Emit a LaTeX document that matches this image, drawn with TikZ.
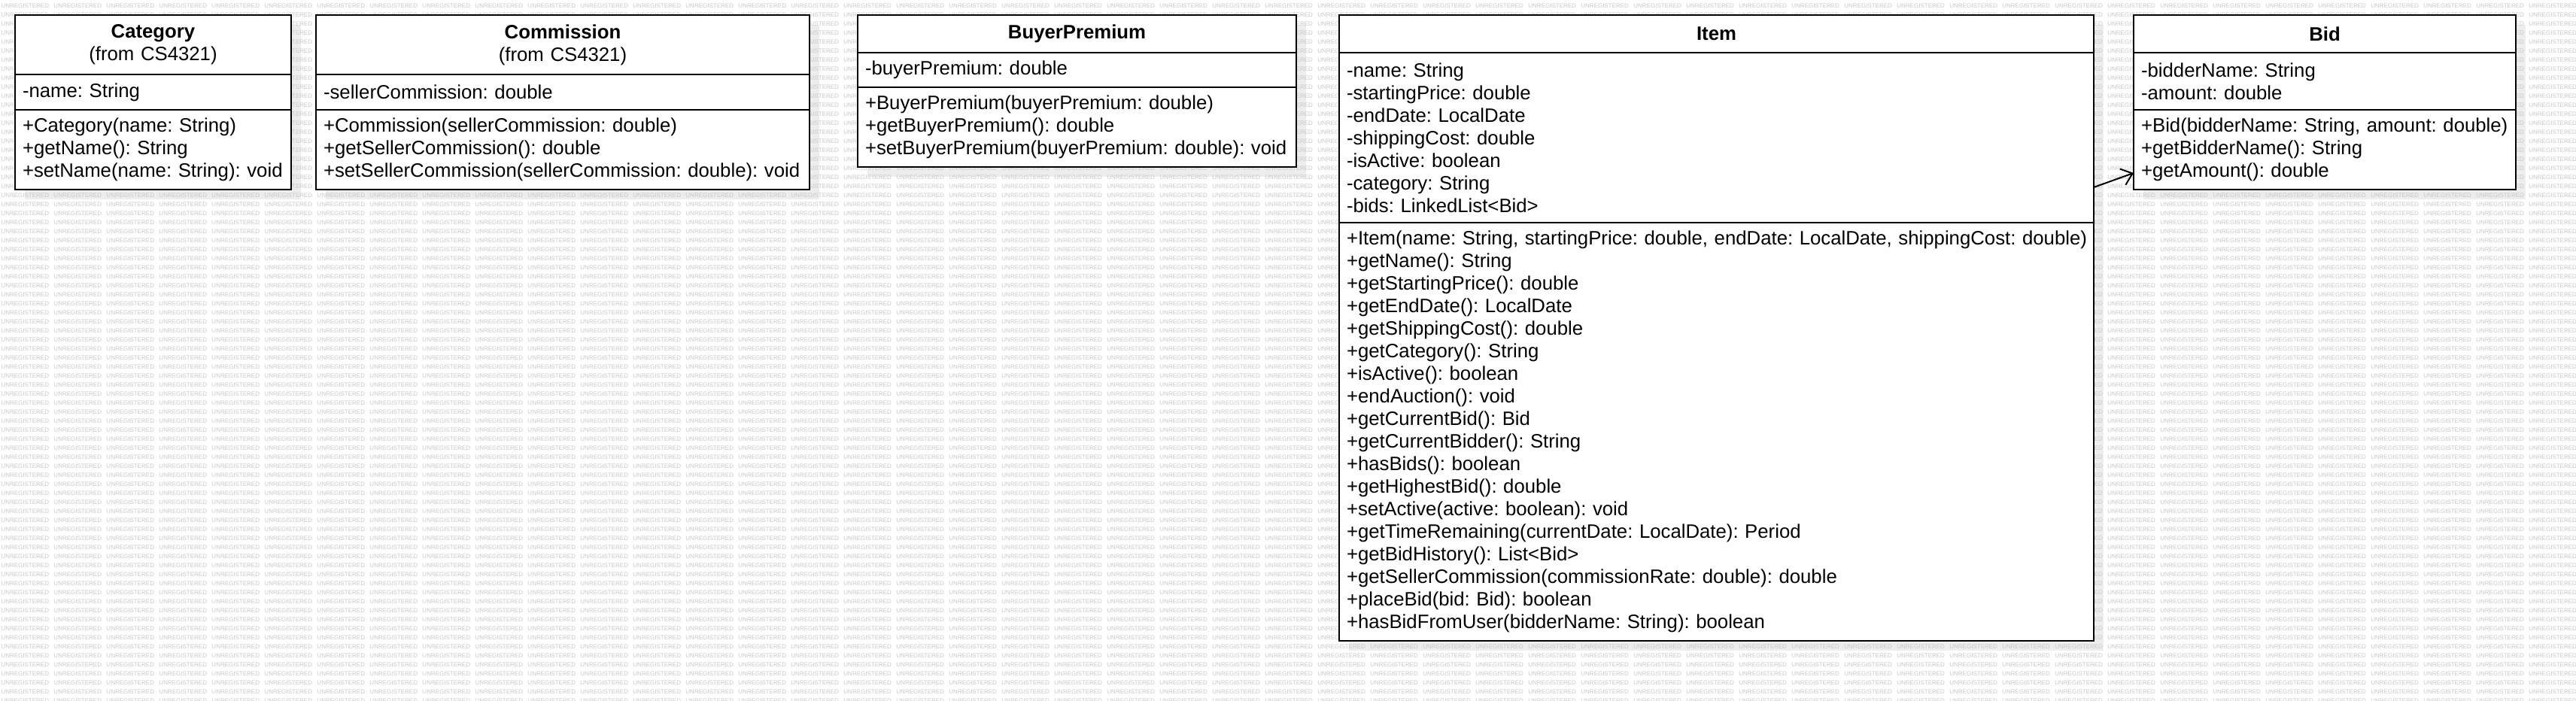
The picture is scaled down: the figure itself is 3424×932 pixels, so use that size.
\documentclass[tikz,border=0pt]{standalone}
\usepackage{fontspec}
\setmainfont{Liberation Sans}
\usetikzlibrary{arrows.meta,positioning,calc,backgrounds}
\definecolor{umlink}{HTML}{000000}
\definecolor{umlshade}{HTML}{EDEDED}
\definecolor{umlwm}{HTML}{C8C8C8}
\tikzset{
  bx/.style={draw=umlink, line width=1.1pt, fill=white, outer sep=0pt, inner xsep=0pt, inner ysep=0pt, font=\fontsize{10.3}{12}\selectfont\frenchspacing},
  hdr/.style={bx, align=center},
  sec/.style={bx, align=left, execute at begin node={\leftskip=4pt\hyphenpenalty=10000}},
  shade/.style={fill=umlshade},
  wm/.style={font=\fontsize{3.2}{3.2}\selectfont, text=umlwm, inner sep=0pt, anchor=west},
  assoc/.style={-{Straight Barb[length=5.5pt,width=9pt]}, line width=0.8pt, color=umlink},
}

\begin{document}
\begin{tikzpicture}[x=0.4pt, y=-0.4pt,
    catw/.style={text width=146.8pt}, comw/.style={text width=262.4pt},
    bpw/.style={text width=233.2pt}, itemw/.style={text width=401.2pt},
    bidw/.style={text width=203.2pt}]
  \useasboundingbox (0,0) rectangle (3424,932);

  % classes
  \node[hdr, catw, minimum height=31.6pt, anchor=north west] (catH) at (20,20) {\textbf{Category}\\(from CS4321)};
  \node[sec, catw, minimum height=18.8pt, below=0pt of catH] (catA) {-name: String};
  \node[sec, catw, minimum height=42.4pt, below=0pt of catA] (catM) {+Category(name: String)\\+getName(): String\\+setName(name: String): void};

  \node[hdr, comw, minimum height=31.6pt, anchor=north west] (comH) at (420,20) {\textbf{Commission}\\(from CS4321)};
  \node[sec, comw, minimum height=18.8pt, below=0pt of comH] (comA) {-sellerCommission: double};
  \node[sec, comw, minimum height=42.4pt, below=0pt of comA] (comM) {+Commission(sellerCommission: double)\\+getSellerCommission(): double\\+setSellerCommission(sellerCommission: double): void};

  \node[hdr, bpw, minimum height=20pt, anchor=north west] (bpH) at (1140,20) {\textbf{BuyerPremium}};
  \node[sec, bpw, minimum height=18.4pt, below=0pt of bpH] (bpA) {-buyerPremium: double};
  \node[sec, bpw, minimum height=42.4pt, below=0pt of bpA] (bpM) {+BuyerPremium(buyerPremium: double)\\+getBuyerPremium(): double\\+setBuyerPremium(buyerPremium: double): void};

  \node[hdr, itemw, minimum height=20pt, anchor=north west] (itemH) at (1780,20) {\textbf{Item}};
  \node[sec, itemw, minimum height=90.4pt, below=0pt of itemH] (itemA) {-name: String\\-startingPrice: double\\-endDate: LocalDate\\-shippingCost: double\\-isActive: boolean\\-category: String\\-bids: LinkedList<Bid>};
  \node[sec, itemw, minimum height=222.4pt, below=0pt of itemA] (itemM) {+Item(name: String, startingPrice: double, endDate: LocalDate, shippingCost: double)\\+getName(): String\\+getStartingPrice(): double\\+getEndDate(): LocalDate\\+getShippingCost(): double\\+getCategory(): String\\+isActive(): boolean\\+endAuction(): void\\+getCurrentBid(): Bid\\+getCurrentBidder(): String\\+hasBids(): boolean\\+getHighestBid(): double\\+setActive(active: boolean): void\\+getTimeRemaining(currentDate: LocalDate): Period\\+getBidHistory(): List<Bid>\\+getSellerCommission(commissionRate: double): double\\+placeBid(bid: Bid): boolean\\+hasBidFromUser(bidderName: String): boolean};

  \node[hdr, bidw, minimum height=20pt, anchor=north west] (bidH) at (2836,20) {\textbf{Bid}};
  \node[sec, bidw, minimum height=30.4pt, below=0pt of bidH] (bidA) {-bidderName: String\\-amount: double};
  \node[sec, bidw, minimum height=42.4pt, below=0pt of bidA] (bidM) {+Bid(bidderName: String, amount: double)\\+getBidderName(): String\\+getAmount(): double};

  \draw[assoc] ($(itemA.east)+(0,66)$) -- ($(bidM.west)+(0,31)$);

  % shadows and watermark
  \begin{scope}[on background layer]
    \fill[white] (0,0) rectangle (3424,932);
    \foreach \h/\m in {catH/catM,comH/comM,bpH/bpM,itemH/itemM,bidH/bidM}
      \fill[shade] ($(\h.north west)+(13,13)$) rectangle ($(\m.south east)+(13,13)$);
    \foreach \r in {0,...,77}
      \node[wm] (wm\r) at (1,{8+12*\r}) {\foreach \c in {1,...,49}{\makebox[28pt][l]{UNREGISTERED}}};
  \end{scope}
\end{tikzpicture}
\end{document}
